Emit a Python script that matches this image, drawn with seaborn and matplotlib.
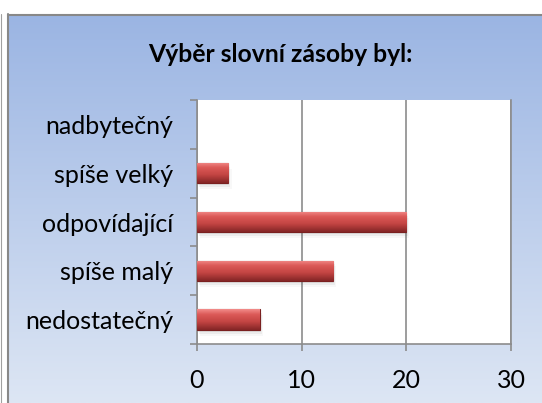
import matplotlib
matplotlib.use("Agg")
import matplotlib.pyplot as plt
from matplotlib.colors import LinearSegmentedColormap
from matplotlib.lines import Line2D
from matplotlib.patches import Rectangle
import numpy as np
import seaborn as sns

categories = ["nadbytečný", "spíše velký", "odpovídající", "spíše malý", "nedostatečný"]
values = [0, 3, 20, 13, 6]
x_ticks = [0, 10, 20, 30]
title = "Výběr slovní zásoby byl:"

sns.set_theme(style="white")
plt.rcParams["font.family"] = ["Lato", "DejaVu Sans"]

W, H = 542, 403
fig = plt.figure(figsize=(W / 100, H / 100), dpi=100)
fig.patch.set_facecolor("white")

# blue gradient panel behind the chart
bg = fig.add_axes([9 / W, 0, 1 - 9 / W, (H - 16) / H])
grad = np.linspace(0, 1, 256).reshape(-1, 1)
bg_cmap = LinearSegmentedColormap.from_list("bg", ["#9bb5e3", "#dde6f4"])
bg.imshow(grad, aspect="auto", cmap=bg_cmap, extent=[0, 1, 0, 1], origin="upper")
bg.axis("off")

# frame lines
fig.add_artist(Line2D([0.5 / W, 0.5 / W], [0, 1 - 14 / H], color="#a0a0a0", lw=0.8))
fig.add_artist(Line2D([8 / W, 8 / W], [0, 1 - 14 / H], color="#888888", lw=1.5))
fig.add_artist(Line2D([8 / W, 1], [1 - 15 / H, 1 - 15 / H], color="#888888", lw=1.5))

ax = fig.add_axes([197 / W, (H - 344) / H, (511 - 197) / W, (344 - 100) / H])
ax.set_facecolor("white")
sns.barplot(x=values, y=categories, ax=ax, width=0.42, color="#c0403f",
            orient="h", zorder=3)

ax.set_xlim(0, 30)
ax.set_ylim(4.5, -0.5)

bar_cmap = LinearSegmentedColormap.from_list(
    "bar", [(0, "#f28c8a"), (0.25, "#dc5a58"), (0.6, "#c44543"), (1, "#842626")])
bar_grad = np.linspace(0, 1, 64).reshape(-1, 1)
for p in ax.patches[:]:
    x0, y0 = p.get_x(), p.get_y()
    w, h = p.get_width(), p.get_height()
    if w <= 0:
        p.set_visible(False)
        continue
    # soft shadow
    for k, a in enumerate([0.10, 0.07, 0.04]):
        ax.add_patch(Rectangle((x0 + 0.1 * (k + 1), y0 + 0.04 * (k + 1)), w, h,
                               facecolor="#555555", edgecolor="none", alpha=a, zorder=2))
    p.set_facecolor("none")
    p.set_edgecolor("#7a2020")
    p.set_linewidth(0.8)
    im = ax.imshow(bar_grad, aspect="auto", cmap=bar_cmap,
                   extent=[x0, x0 + w, y0 + h, y0], origin="upper", zorder=3)
    im.set_clip_path(p)

ax.set_xlim(0, 30)
ax.set_ylim(4.5, -0.5)
ax.set_xticks(x_ticks)
ax.set_xlabel("")
ax.set_ylabel("")
ax.grid(axis="x", color="#8c8c8c", lw=1.2, zorder=1)
ax.grid(axis="y", visible=False)
ax.set_axisbelow(True)

for side in ["left", "bottom", "right"]:
    ax.spines[side].set_visible(True)
    ax.spines[side].set_color("#8c8c8c")
    ax.spines[side].set_linewidth(1.2)
ax.spines["top"].set_visible(False)

ax.set_yticks(np.arange(-0.5, 5, 1), minor=True)
ax.tick_params(axis="y", which="major", length=0, pad=17, labelsize=18, colors="black")
ax.tick_params(axis="y", which="minor", left=True, length=5, width=1.2, color="#8c8c8c")
ax.tick_params(axis="x", which="major", bottom=True, length=5, width=1.2,
               color="#8c8c8c", pad=13, labelsize=18, labelcolor="black")

fig.text(280 / W, 1 - 55 / H, title, ha="center", va="center",
         fontsize=17.8, fontweight="bold", color="black")

fig.savefig("out.png", dpi=100)
